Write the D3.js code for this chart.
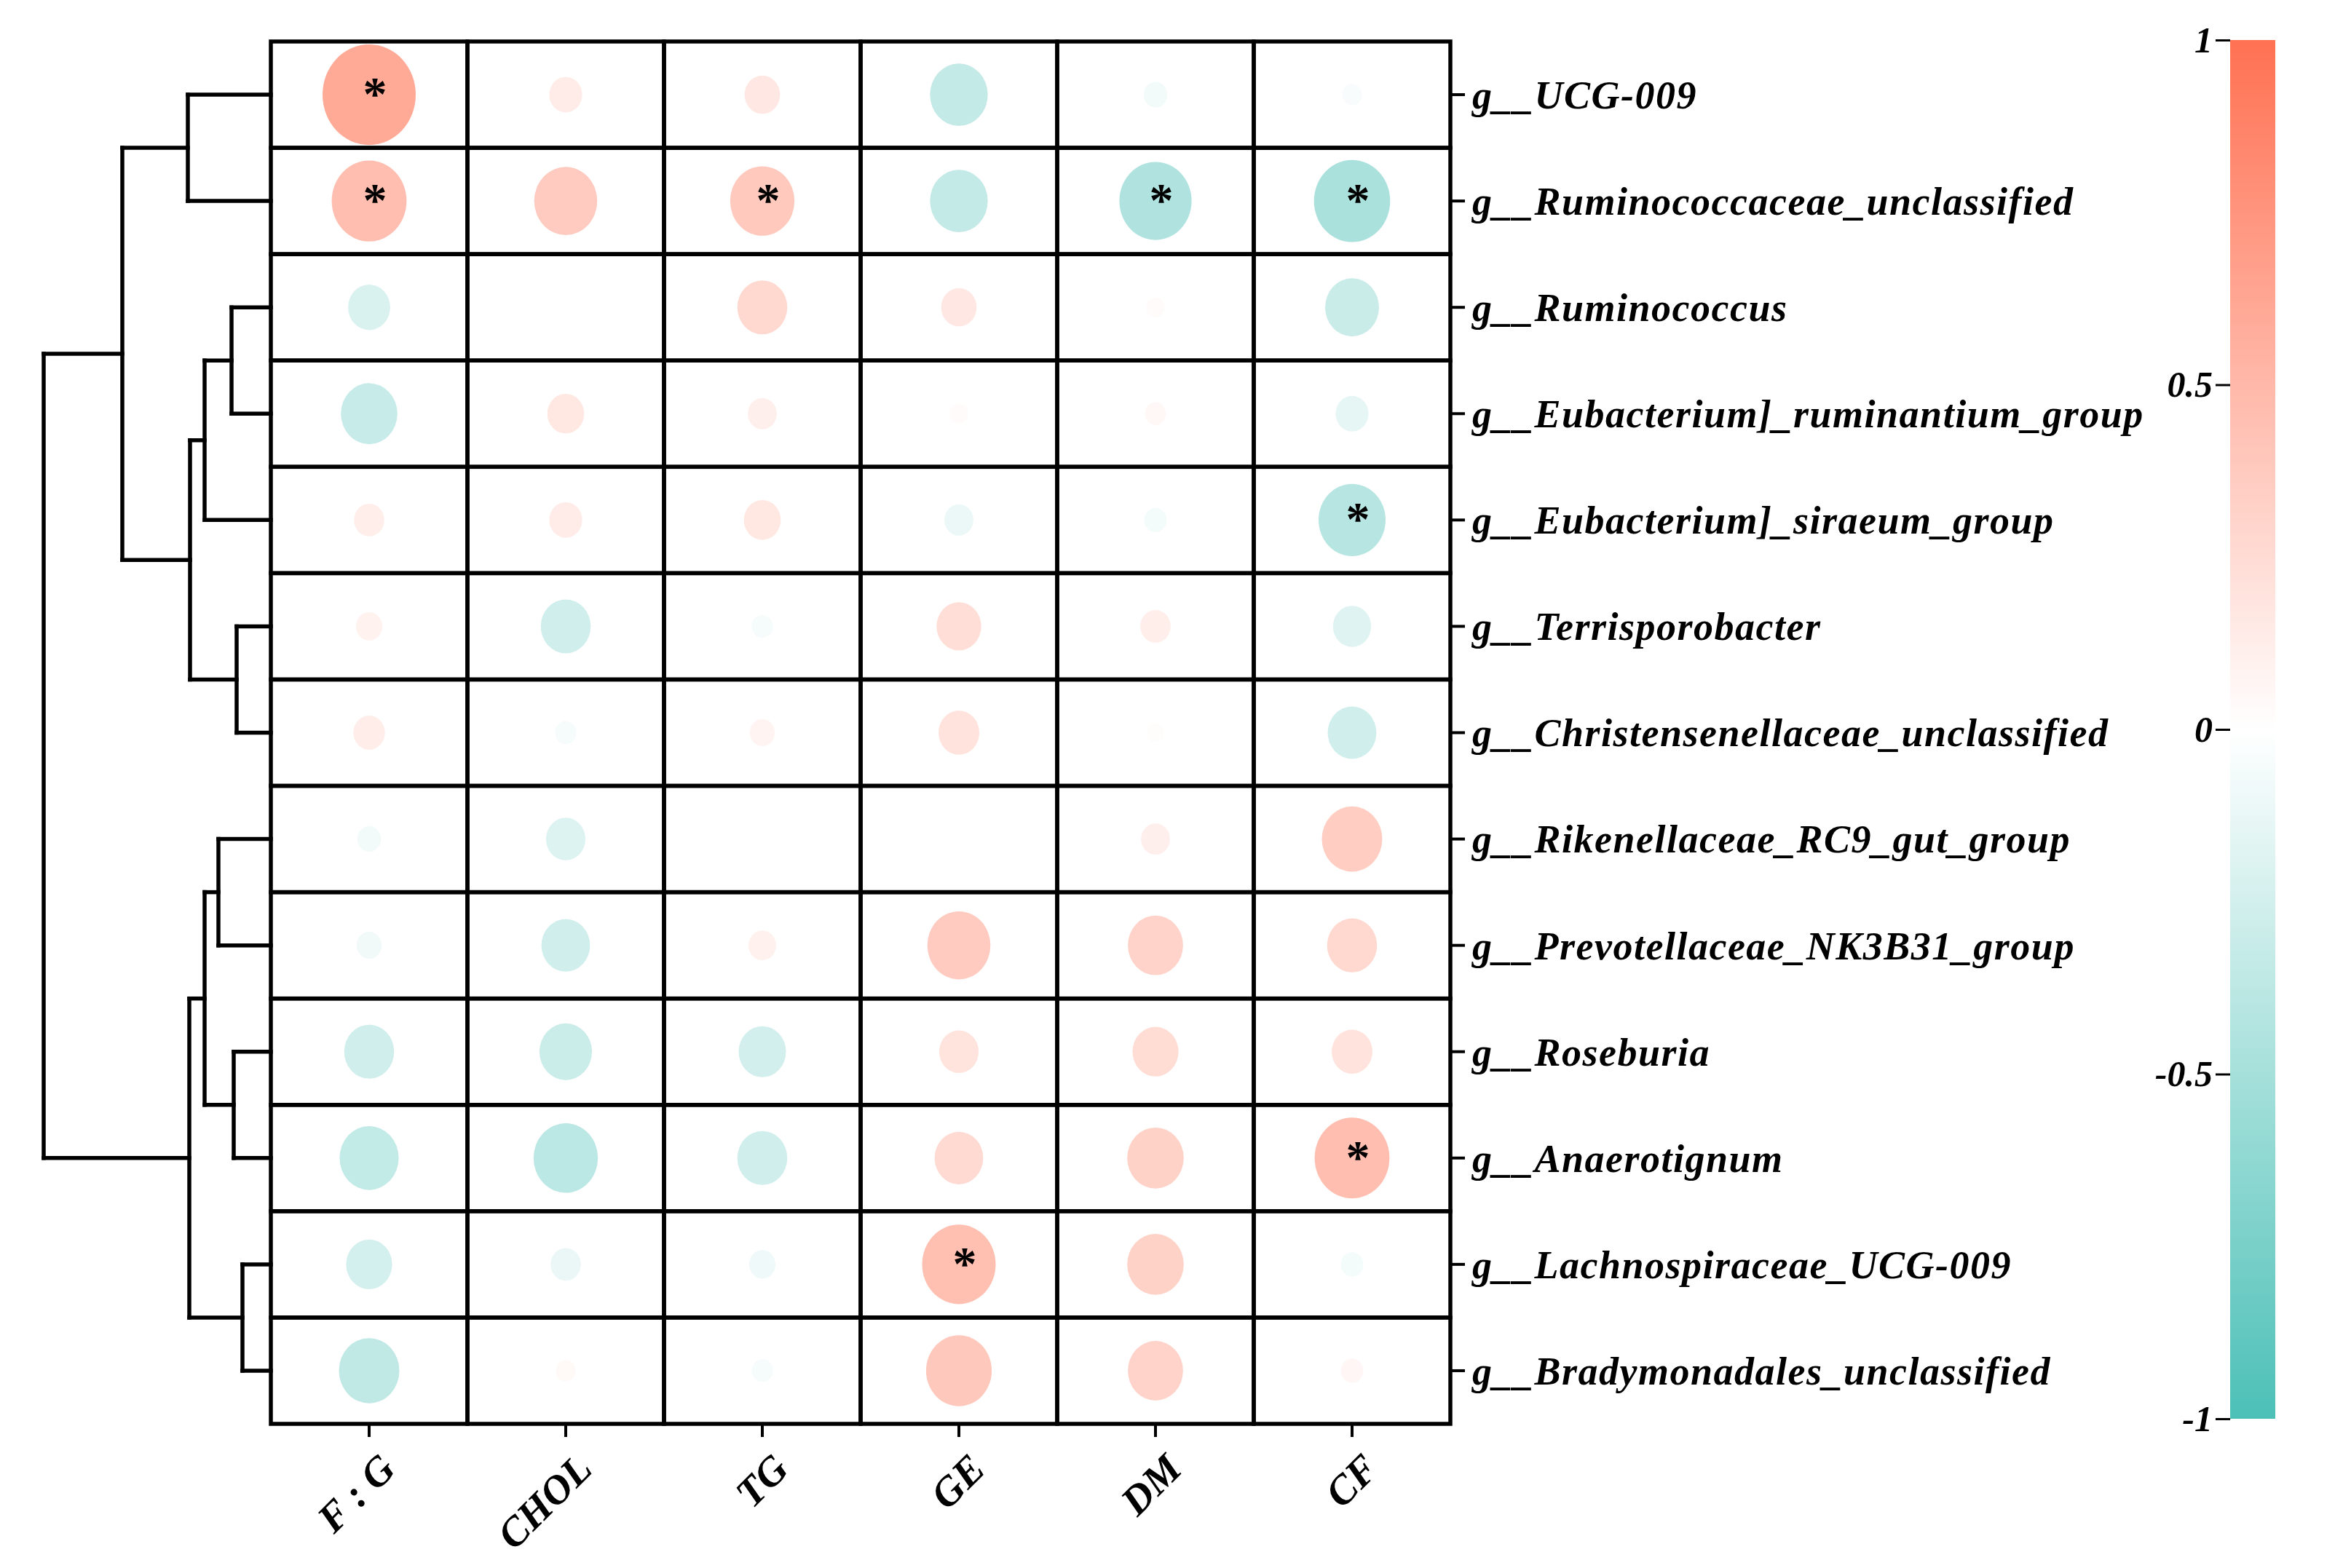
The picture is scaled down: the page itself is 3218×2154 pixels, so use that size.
<!DOCTYPE html>
<html>
<head>
<meta charset="utf-8">
<script src="https://cdn.jsdelivr.net/npm/d3@7"></script>
<style>
  body { margin: 0; background: #fff; }
  text { font-family: "Liberation Serif", "Times New Roman", serif; font-weight: bold; font-style: italic; }
</style>
</head>
<body>
<div id="chart"></div>
<script>
// genera (rows) and indices (columns)
var genera = [
  "g__UCG-009",
  "g__Ruminococcaceae_unclassified",
  "g__Ruminococcus",
  "g__Eubacterium]_ruminantium_group",
  "g__Eubacterium]_siraeum_group",
  "g__Terrisporobacter",
  "g__Christensenellaceae_unclassified",
  "g__Rikenellaceae_RC9_gut_group",
  "g__Prevotellaceae_NK3B31_group",
  "g__Roseburia",
  "g__Anaerotignum",
  "g__Lachnospiraceae_UCG-009",
  "g__Bradymonadales_unclassified"
];
var indices = ["F : G", "CHOL", "TG", "GE", "DM", "CF"];

// correlation values, one array per genus (F:G, CHOL, TG, GE, DM, CF)
var corr = [
  [ 0.60,  0.14,  0.16, -0.33, -0.07, -0.04],
  [ 0.46,  0.37,  0.38, -0.33, -0.44, -0.47],
  [-0.21,  0.00,  0.27,  0.16,  0.03, -0.30],
  [-0.32,  0.17,  0.11,  0.03,  0.05, -0.14],
  [ 0.12,  0.14,  0.17, -0.11, -0.06, -0.40],
  [ 0.09, -0.27, -0.05,  0.23,  0.12, -0.18],
  [ 0.13, -0.05,  0.08,  0.20,  0.02, -0.26],
  [-0.07, -0.19,  0.00,  0.00,  0.11,  0.35],
  [-0.08, -0.26,  0.10,  0.37,  0.31,  0.27],
  [-0.27, -0.29, -0.25,  0.19,  0.24,  0.20],
  [-0.34, -0.38, -0.27,  0.26,  0.32,  0.46],
  [-0.24, -0.12, -0.09,  0.45,  0.32, -0.06],
  [-0.35,  0.04, -0.05,  0.39,  0.31,  0.06]
];

// significant cells [row, col]
var significant = [[0, 0], [1, 0], [1, 2], [1, 4], [1, 5], [4, 5], [10, 5], [11, 3]];

// row clustering: [left, right, height]; ids >= 13 are earlier merges
var merges = [
  [11, 12, 0.39],
  [5, 6, 0.47],
  [9, 10, 0.51],
  [2, 3, 0.54],
  [7, 8, 0.72],
  [16, 4, 0.91],
  [17, 15, 0.91],
  [18, 14, 1.11],
  [19, 13, 1.12],
  [0, 1, 1.14],
  [22, 20, 2.04],
  [23, 21, 3.12]
];

var colorTicks = [-1, -0.5, 0, 0.5, 1];

var svgWidth = 3218, svgHeight = 2154;
var grid = { left: 372, right: 1992, top: 57, bottom: 1956 };

var svg = d3.select("#chart").append("svg")
  .attr("width", svgWidth)
  .attr("height", svgHeight);

var x = d3.scaleBand().domain(d3.range(indices.length)).range([grid.left, grid.right]);
var y = d3.scaleBand().domain(d3.range(genera.length)).range([grid.top, grid.bottom]);

var color = d3.scaleLinear().domain([-1, 0, 1]).range(["#4cc0b7", "#ffffff", "#ff7152"]);
var size = d3.scaleLinear().domain([0, 1]).range([10, 100]);

// cells
var cells = [];
corr.forEach(function(row, i) {
  row.forEach(function(v, j) { cells.push({ i: i, j: j, v: v }); });
});

svg.append("g").selectAll("ellipse")
  .data(cells)
  .enter().append("ellipse")
  .attr("cx", d => x(d.j) + x.bandwidth() / 2)
  .attr("cy", d => y(d.i) + y.bandwidth() / 2)
  .attr("rx", d => size(Math.abs(d.v)))
  .attr("ry", d => size(Math.abs(d.v)) * 1.08)
  .attr("fill", d => color(d.v));

svg.append("g").selectAll("text")
  .data(significant)
  .enter().append("text")
  .attr("x", d => x(d[1]) + x.bandwidth() / 2 + 8)
  .attr("y", d => y(d[0]) + y.bandwidth() / 2 + 21)
  .attr("text-anchor", "middle")
  .style("font-style", "normal")
  .attr("font-size", 66)
  .text("*");

// grid lines
var gridG = svg.append("g").attr("stroke", "#000").attr("stroke-width", 5.5).attr("fill", "none");
gridG.selectAll("rect")
  .data(cells)
  .enter().append("rect")
  .attr("x", d => x(d.j))
  .attr("y", d => y(d.i))
  .attr("width", x.bandwidth())
  .attr("height", y.bandwidth());

// y axis (right)
var yAxis = svg.append("g")
  .attr("transform", `translate(${grid.right}, 0)`)
  .call(d3.axisRight(y).tickSize(20).tickPadding(10).tickFormat(i => genera[i]));
yAxis.select(".domain").remove();
yAxis.selectAll("line").attr("stroke-width", 4);
yAxis.selectAll("text")
  .attr("font-size", 54)
  .attr("fill", "#000")
  .attr("dy", "0.35em")
  .style("letter-spacing", "1.5px")
  .style("font-family", "'Liberation Serif', serif");

// x axis (bottom)
var xAxis = svg.append("g")
  .attr("transform", `translate(0, ${grid.bottom})`)
  .call(d3.axisBottom(x).tickSize(18).tickFormat(""));
xAxis.select(".domain").remove();
xAxis.selectAll("line").attr("stroke-width", 4);

svg.append("g").selectAll("text")
  .data(indices)
  .enter().append("text")
  .attr("transform", (d, j) => `translate(${x(j) + x.bandwidth() / 2 + 12}, ${grid.bottom + 38}) rotate(-45)`)
  .attr("text-anchor", "end")
  .attr("dy", "0.68em")
  .attr("font-size", 56)
  .text(d => d);

// dendrogram
var maxH = d3.max(merges, d => d[2]);
var hx = d3.scaleLinear().domain([0, maxH]).range([grid.left, 60]);
var nodes = genera.map((g, i) => ({ y: y(i) + y.bandwidth() / 2, h: 0 }));
var segs = [];
merges.forEach(function(m) {
  var a = nodes[m[0]], b = nodes[m[1]];
  var xm = hx(m[2]);
  segs.push([xm, a.y, xm, b.y]);
  segs.push([xm, a.y, hx(a.h), a.y]);
  segs.push([xm, b.y, hx(b.h), b.y]);
  nodes.push({ y: (a.y + b.y) / 2, h: m[2] });
});
svg.append("g").selectAll("line")
  .data(segs)
  .enter().append("line")
  .attr("x1", d => d[0]).attr("y1", d => d[1])
  .attr("x2", d => d[2]).attr("y2", d => d[3])
  .attr("stroke", "#000")
  .attr("stroke-width", 5.5)
  .attr("stroke-linecap", "square");

// colour bar
var bar = { left: 3063, width: 62, top: 55, bottom: 1949 };
var defs = svg.append("defs");
var grad = defs.append("linearGradient")
  .attr("id", "cbar")
  .attr("x1", 0).attr("y1", 1).attr("x2", 0).attr("y2", 0);
grad.selectAll("stop")
  .data(colorTicks)
  .enter().append("stop")
  .attr("offset", d => (d + 1) / 2)
  .attr("stop-color", d => color(d));

svg.append("rect")
  .attr("x", bar.left)
  .attr("y", bar.top)
  .attr("width", bar.width)
  .attr("height", bar.bottom - bar.top)
  .attr("fill", "url(#cbar)");

var cy = d3.scaleLinear().domain([-1, 1]).range([bar.bottom, bar.top]);
var cAxis = svg.append("g")
  .attr("transform", `translate(${bar.left}, 0)`)
  .call(d3.axisLeft(cy).tickValues(colorTicks).tickSize(20).tickPadding(4)
    .tickFormat(d => d === 0 ? "0" : String(d).replace("−", "-")));
cAxis.select(".domain").remove();
cAxis.selectAll("line").attr("stroke-width", 3);
cAxis.selectAll("text")
  .attr("font-size", 50)
  .attr("fill", "#000")
  .style("font-family", "'Liberation Serif', serif");
</script>
</body>
</html>
